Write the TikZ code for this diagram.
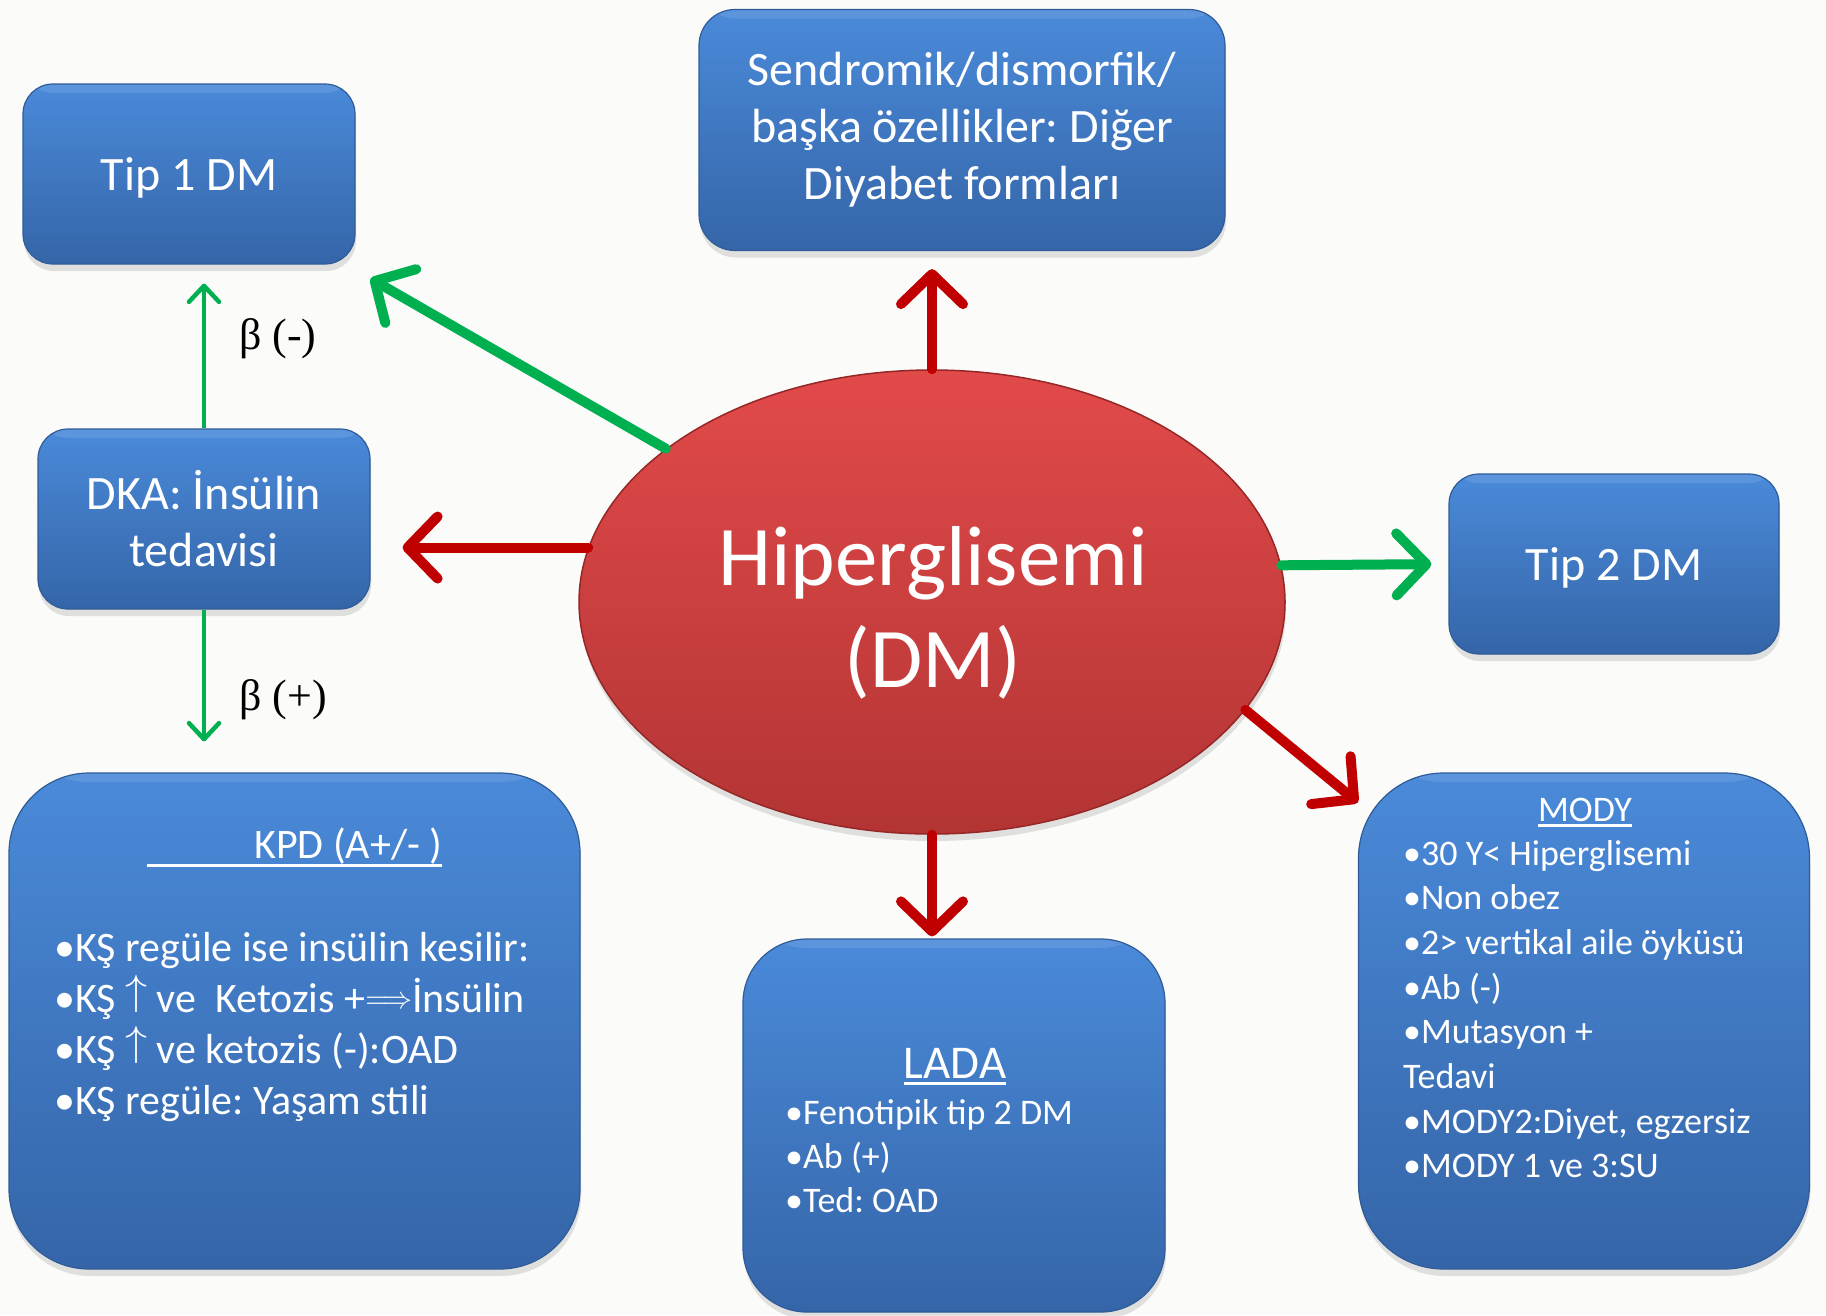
\documentclass[tikz,border=0pt]{standalone}
\usepackage{fontspec}
\usepackage{graphicx}
\setmainfont{Carlito}
\newfontfamily\betafont{Liberation Serif}
\usetikzlibrary{arrows.meta,shadows,shapes.geometric}
\frenchspacing

\definecolor{bg}{HTML}{FBFBF9}
\definecolor{boxtop}{HTML}{4A8AD9}
\definecolor{boxbot}{HTML}{3565A8}
\definecolor{boxedge}{HTML}{2F5C99}
\definecolor{redtop}{HTML}{E24A4A}
\definecolor{redbot}{HTML}{B33434}
\definecolor{rededge}{HTML}{962727}
\definecolor{arrgreen}{HTML}{00B050}
\definecolor{arrred}{HTML}{C00000}

% underlined heading with a thicker rule than \underline gives
\newsavebox\ulbox
\newcommand\ulhead[2][-7pt]{\sbox\ulbox{#2}\rlap{\rule[#1]{\wd\ulbox}{3pt}}\usebox\ulbox}
% thin tall up arrow and long double arrow at text size
\newcommand\upar{{\fontsize{10}{12}\selectfont\raisebox{7.5pt}{\scalebox{4.4}[4.2]{$\uparrow$}}}}
\newcommand\thenar{{\fontsize{10}{12}\selectfont\raisebox{4pt}{\scalebox{2.9}[3.1]{$\Longrightarrow$}}}}

\begin{document}
\begin{tikzpicture}[x=1pt,y=-1pt,
  bluebox/.style={draw=boxedge, line width=1.2pt, top color=boxtop, bottom color=boxbot,
    drop shadow={opacity=0.22, shadow xshift=1pt, shadow yshift=-7pt},
    path picture={\fill[white, opacity=0.10] (path picture bounding box.north west)
      rectangle ([yshift=-9pt]path picture bounding box.north east);},
    text=white, align=center, inner sep=0pt},
  hypnode/.style={ellipse, draw=rededge, line width=1.5pt, top color=redtop, bottom color=redbot,
    drop shadow={opacity=0.22, shadow xshift=1pt, shadow yshift=-7pt},
    inner sep=0pt, minimum width=706pt, minimum height=464pt},
  hyptextstyle/.style={text=white, align=center, inner sep=0pt,
    font=\fontsize{85}{102}\selectfont},
  midfont/.style={font=\fontsize{48}{57}\selectfont},
  line/.style={anchor=base west, text=white, inner sep=0pt},
  kpdline/.style={line, font=\fontsize{42}{51}\selectfont},
  smallline/.style={line, font=\fontsize{36}{44}\selectfont},
  beta/.style={anchor=base west, inner sep=0pt, font=\fontsize{44}{50}\betafont},
  thickarrow/.style={line width=10pt, line cap=round,
    -{Straight Barb[length=30pt, width=62pt, round]}},
  thinarrow/.style={draw=arrgreen, line width=4.5pt,
    -{Straight Barb[length=16pt, width=30pt, round]}},
]
% page
\fill[bg] (0,0) rectangle (1826,1315);
\useasboundingbox (0,0) rectangle (1826,1315);

% boxes
\node[bluebox, rounded corners=30pt, minimum width=332pt, minimum height=180pt, midfont, text depth=0pt]
  (tip1) at (189,174) {Tip 1 DM};
\node[bluebox, rounded corners=36pt, minimum width=526pt, minimum height=241pt, midfont]
  (synd) at (962,130) {Sendromik/dismorfik/\\başka özellikler: Diğer\\Diyabet formları};
\node[bluebox, rounded corners=30pt, minimum width=332pt, minimum height=180pt, midfont]
  (dka) at (204,519) {DKA: İnsülin\\tedavisi};
\node[bluebox, rounded corners=30pt, minimum width=330pt, minimum height=180pt, midfont, text depth=0pt]
  (tip2) at (1614,564) {Tip 2 DM};
\node[bluebox, rounded corners=80pt, minimum width=571pt, minimum height=496pt]
  (kpd) at (294.5,1021) {};
\node[bluebox, rounded corners=64pt, minimum width=422pt, minimum height=373pt]
  (lada) at (954,1125.5) {};
\node[bluebox, rounded corners=85pt, minimum width=451pt, minimum height=496pt]
  (mody) at (1584,1021) {};

% centre
\node[hypnode] (hyp) at (932,602) {};
\node[hyptextstyle] (hyptext) at (933,613) {Hiperglisemi\\(DM)};

% KPD contents
\node[kpdline] (kpdt) at (147,858) {\ulhead[-9pt]{\hspace*{107pt}KPD (A+/- )}};
\node[kpdline] (kpd1) at (54,961) {•KŞ regüle ise insülin kesilir:};
\node[kpdline] (kpd2) at (54,1012) {•KŞ \upar{} ve\ \ Ketozis +\thenar{}İnsülin};
\node[kpdline] (kpd3) at (54,1063) {•KŞ \upar{} ve ketozis (-):OAD};
\node[kpdline] (kpd4) at (54,1114) {•KŞ regüle: Yaşam stili};

% LADA contents
\node[line, anchor=base, font=\fontsize{47}{56}\selectfont] (ladat) at (955,1078) {\ulhead{LADA}};
\node[smallline] (lada1) at (785,1124) {•Fenotipik tip 2 DM};
\node[smallline] (lada2) at (785,1168) {•Ab (+)};
\node[smallline] (lada3) at (785,1212) {•Ted: OAD};

% MODY contents
\node[line, anchor=base, font=\fontsize{36}{44}\selectfont] (modyt) at (1585,821) {\ulhead[-6pt]{MODY}};
\node[smallline] (m1) at (1403,865) {•30 Y< Hiperglisemi};
\node[smallline] (m2) at (1403,909) {•Non obez};
\node[smallline] (m3) at (1403,954) {•2> vertikal aile öyküsü};
\node[smallline] (m4) at (1403,999) {•Ab (-)};
\node[smallline] (m5) at (1403,1043) {•Mutasyon +};
\node[smallline] (m6) at (1403,1088) {Tedavi};
\node[smallline] (m7) at (1403,1133) {•MODY2:Diyet, egzersiz};
\node[smallline] (m8) at (1403,1177) {•MODY 1 ve 3:SU};

% connectors from the centre
\draw[thickarrow, arrgreen, shorten >=28pt] (hyp) -- (tip1);
\draw[thickarrow, arrred, shorten >=18pt] (hyp.north) -- (hyp.north |- synd.south);
\draw[thickarrow, arrred, shorten >=32pt] (hyp.171) -- (dka.east |- hyp.171);
\draw[thickarrow, arrgreen, shorten >=17pt] (hyp.6) -- (tip2.west);
\draw[thickarrow, arrred] (hyp.-19) -- ([yshift=-30pt]mody.north west);
\draw[thickarrow, arrred, shorten >=2pt] (hyp.south) -- (hyp.south |- lada.north);

% beta-cell branches
\draw[thinarrow, shorten >=19pt] (dka.north) -- (dka.north |- tip1.south);
\draw[thinarrow, shorten >=31pt] (dka.south) -- (dka.south |- kpd.north);
\node[beta] (bminus) at (239,349) {β (-)};
\node[beta] (bplus) at (239,710) {β (+)};
\end{tikzpicture}
\end{document}
